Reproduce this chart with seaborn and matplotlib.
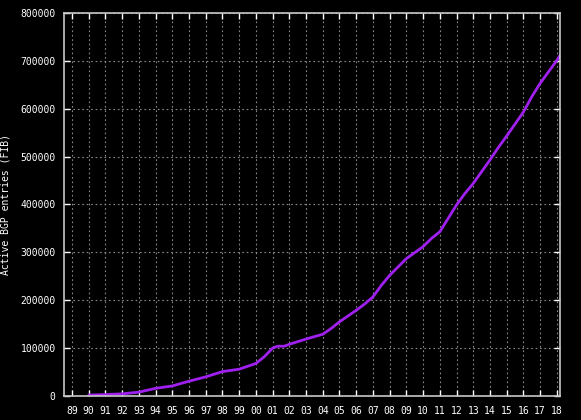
import matplotlib
matplotlib.use("Agg")
import matplotlib.pyplot as plt
import seaborn as sns
import pandas as pd

# Data (year fraction, active BGP entries)
years = [1990.0, 1991.0, 1992.0, 1993.0, 1994.0, 1995.0, 1996.0, 1997.0,
         1998.0, 1999.0, 2000.0, 2000.5, 2001.0, 2001.3, 2001.7, 2002.0,
         2003.0, 2004.0, 2004.5, 2005.0, 2005.5, 2006.0, 2006.5, 2007.0,
         2007.5, 2008.0, 2009.0, 2010.0, 2010.5, 2011.0, 2011.5, 2012.0,
         2012.5, 2013.0, 2014.0, 2014.5, 2015.0, 2016.0, 2016.5, 2017.0,
         2017.5, 2018.0, 2018.2]
entries = [2000, 3000, 4500, 8000, 16000, 21000, 31000, 40000,
           51000, 56000, 68000, 82000, 100000, 104000, 104000, 108000,
           119000, 129000, 141000, 155000, 167000, 179000, 192000, 207000,
           231000, 252000, 287000, 312000, 329000, 343000, 371000, 399000,
           423000, 444000, 493000, 519000, 543000, 593000, 625000, 653000,
           677000, 701000, 712000]

x_ticks = list(range(1989, 2019))
x_labels = [f"{y % 100:02d}" for y in x_ticks]
y_ticks = [0, 100000, 200000, 300000, 400000, 500000, 600000, 700000, 800000]
y_label = "Active BGP entries (FIB)"

df = pd.DataFrame({"year": years, "entries": entries})

sns.set_style("dark", {"axes.facecolor": "black", "figure.facecolor": "black"})
plt.rcParams["font.family"] = ["DejaVu Sans Mono", "DejaVu Sans"]

fig = plt.figure(figsize=(5.81, 4.20), dpi=100, facecolor="black")
ax = fig.add_axes([64 / 581, 1 - 396 / 420, (560 - 64) / 581, (396 - 13) / 420])
ax.set_facecolor("black")

sns.lineplot(data=df, x="year", y="entries", ax=ax, color="#a020f0",
             linewidth=2.0, estimator=None)

ax.set_xlim(1988.52, 2018.19)
ax.set_ylim(0, 800000)
ax.set_xticks(x_ticks)
ax.set_xticklabels(x_labels)
ax.set_yticks(y_ticks)
ax.set_yticklabels([str(v) for v in y_ticks])

ax.grid(True, color="#8a8a8a", linestyle=(0, (1.5, 2.5)), linewidth=0.8)
for s in ax.spines.values():
    s.set_color("#c8c8c8")
    s.set_linewidth(1.2)
    s.set_visible(True)

ax.tick_params(axis="both", which="both", direction="in", length=4, width=1,
               color="white", labelcolor="white", labelsize=7,
               top=True, right=True, bottom=True, left=True)
ax.tick_params(axis="x", pad=7)
ax.tick_params(axis="y", pad=6)

ax.set_xlabel("")
ax.set_ylabel(y_label, color="white", fontsize=7)
ax.yaxis.set_label_coords(-0.108, 0.5)

fig.savefig("out.png", dpi=100, facecolor="black")
